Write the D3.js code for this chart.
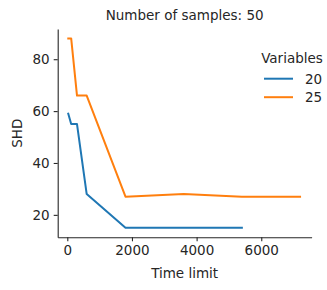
<!DOCTYPE html>
<html>
<head>
<meta charset="utf-8">
<script src="https://cdn.jsdelivr.net/npm/d3@7"></script>
<style>
  body { margin: 0; background: #fff; }
  text { font-family: "DejaVu Sans", sans-serif; fill: #262626; }
</style>
</head>
<body>
<div id="chart"></div>
<script>
// chart data
var title = "Number of samples: 50";
var seriesNames = ["20", "25"];
var colors = ["#1f77b4", "#ff7f0e"];
var timeLimit20 = [30, 120, 300, 600, 1800, 3600, 5400];
var shd20 = [59, 55, 55, 28, 15, 15, 15];
var timeLimit25 = [30, 120, 300, 600, 1800, 3600, 5400, 7200];
var shd25 = [88, 88, 66, 66, 27, 28, 27, 27];
var xTicks = [0, 2000, 4000, 6000];
var yTicks = [20, 40, 60, 80];

var W = 327, H = 290;
var m = {left: 57.7, right: 327 - 311.6, top: 29, bottom: 290 - 237.3};
var fs = '13.5px';

var svg = d3.select('#chart').append('svg')
    .attr('width', W).attr('height', H);

var x = d3.scaleLinear().domain([-297, 7557]).range([m.left, W - m.right]);
var y = d3.scaleLinear().domain([11.35, 91.65]).range([H - m.bottom, m.top]);

var series = [
    {name: seriesNames[0], xs: timeLimit20, ys: shd20, color: colors[0]},
    {name: seriesNames[1], xs: timeLimit25, ys: shd25, color: colors[1]}
];

var line = d3.line()
    .x(function(d) { return x(d[0]); })
    .y(function(d) { return y(d[1]); });

// lines
series.forEach(function(s) {
    svg.append('path')
        .datum(d3.zip(s.xs, s.ys))
        .attr('d', line)
        .attr('fill', 'none')
        .attr('stroke', s.color)
        .attr('stroke-width', 2)
        .attr('stroke-linejoin', 'round')
        .attr('stroke-linecap', 'square');
});

// axes
var xAxis = svg.append('g')
    .attr('transform', 'translate(0,' + (H - m.bottom) + ')')
    .call(d3.axisBottom(x).tickValues(xTicks).tickFormat(d3.format('d'))
        .tickSize(4).tickPadding(4).tickSizeOuter(0));
var yAxis = svg.append('g')
    .attr('transform', 'translate(' + m.left + ',0)')
    .call(d3.axisLeft(y).tickValues(yTicks).tickFormat(d3.format('d'))
        .tickSize(4).tickPadding(4).tickSizeOuter(0));

[xAxis, yAxis].forEach(function(a) {
    a.select('.domain').attr('stroke', '#262626').attr('stroke-width', 1.1);
    a.selectAll('.tick line').attr('stroke', '#262626').attr('stroke-width', 1.1);
    a.selectAll('.tick text')
        .style('font-family', '"DejaVu Sans", sans-serif')
        .style('font-size', fs)
        .attr('fill', '#262626');
});

// title and axis labels
svg.append('text')
    .attr('x', (m.left + W - m.right) / 2).attr('y', 20)
    .attr('text-anchor', 'middle')
    .style('font-size', fs)
    .text(title);

svg.append('text')
    .attr('x', (m.left + W - m.right) / 2).attr('y', 278)
    .attr('text-anchor', 'middle')
    .style('font-size', fs)
    .text('Time limit');

svg.append('text')
    .attr('transform', 'translate(22,' + ((m.top + H - m.bottom) / 2) + ') rotate(-90)')
    .attr('text-anchor', 'middle')
    .style('font-size', fs)
    .text('SHD');

// legend
var lg = svg.append('g');
lg.append('text')
    .attr('x', 292).attr('y', 63)
    .attr('text-anchor', 'middle')
    .style('font-size', fs)
    .text('Variables');

series.forEach(function(s, i) {
    var ly = 78.7 + i * 18.5;
    lg.append('line')
        .attr('x1', 264).attr('x2', 293)
        .attr('y1', ly).attr('y2', ly)
        .attr('stroke', s.color)
        .attr('stroke-width', 2);
    lg.append('text')
        .attr('x', 305).attr('y', ly + 5)
        .style('font-size', fs)
        .text(s.name);
});
</script>
</body>
</html>
